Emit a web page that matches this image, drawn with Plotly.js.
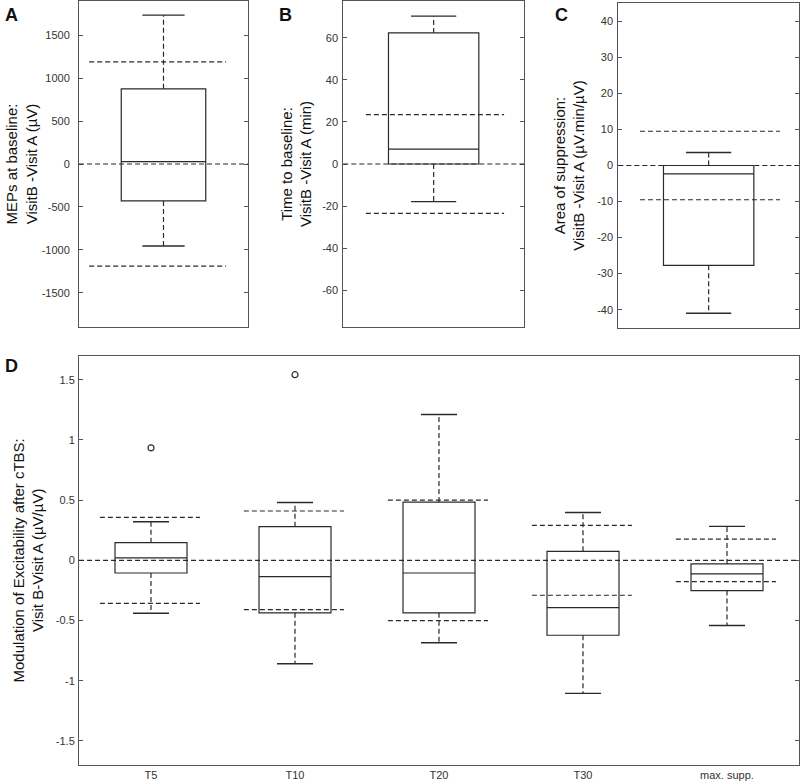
<!DOCTYPE html>
<html><head><meta charset="utf-8">
<script src="https://cdn.plot.ly/plotly-3.0.1.min.js"></script>
<style>html,body{margin:0;padding:0;background:#fff}#chart{width:800px;height:781px}</style>
</head><body><div id="chart"></div>
<script>
// ---- Panel A: MEPs at baseline ----
const aPos = [0];
const aQ1 = [-430];
const aMedian = [27];
const aQ3 = [876];
const aLower = [-955];
const aUpper = [1735];
const aLimit = [1190];
const aTicks = [-1500, -1000, -500, 0, 500, 1000, 1500];

// ---- Panel B: Time to baseline ----
const bPos = [0];
const bQ1 = [0];
const bMedian = [7.1];
const bQ3 = [62.3];
const bLower = [-17.9];
const bUpper = [70.3];
const bLimit = [23.5];
const bTicks = [-60, -40, -20, 0, 20, 40, 60];

// ---- Panel C: Area of suppression ----
const cPos = [0];
const cQ1 = [-27.7];
const cMedian = [-2.3];
const cQ3 = [0];
const cLower = [-41];
const cUpper = [3.6];
const cLimit = [9.5];
const cTicks = [-40, -30, -20, -10, 0, 10, 20, 30, 40];

// ---- Panel D: Modulation of excitability ----
const dCategories = ['T5', 'T10', 'T20', 'T30', 'max. supp.'];
const dQ1 = [-0.105, -0.436, -0.436, -0.622, -0.251];
const dMedian = [0.02, -0.135, -0.105, -0.392, -0.113];
const dQ3 = [0.147, 0.28, 0.484, 0.075, -0.03];
const dLower = [-0.44, -0.859, -0.685, -1.105, -0.541];
const dUpper = [0.321, 0.481, 1.211, 0.398, 0.282];
const dLimit = [0.357, 0.41, 0.5, 0.29, 0.177];
const dOutlierCat = [0, 1];
const dOutlierVal = [0.934, 1.542];
const dTicks = [-1.5, -1, -0.5, 0, 0.5, 1, 1.5];

const LC = '#2a2a2a';
const AX = '#555';
const FONT = 'Liberation Sans, Arial, sans-serif';
const traces = [];

function panel(xa, ya, pos, q1, med, q3, lo, hi, lim, boxW, capHalf, limL, limR) {
  traces.push({
    type: 'box', x: pos, q1: q1, median: med, q3: q3,
    lowerfence: q1, upperfence: q3, width: boxW, whiskerwidth: 0,
    line: {color: LC, width: 1.2}, fillcolor: 'rgba(0,0,0,0)',
    boxpoints: false, xaxis: xa, yaxis: ya, showlegend: false, hoverinfo: 'skip'
  });
  const wx = [], wy = [], cx = [], cy = [], lx = [], ly = [];
  pos.forEach((p, i) => {
    wx.push(p, p, null, p, p, null);
    wy.push(q3[i], hi[i], null, q1[i], lo[i], null);
    cx.push(p - capHalf, p + capHalf, null, p - capHalf, p + capHalf, null);
    cy.push(hi[i], hi[i], null, lo[i], lo[i], null);
    lx.push(p - limL, p + limR, null, p - limL, p + limR, null);
    ly.push(lim[i], lim[i], null, -lim[i], -lim[i], null);
  });
  traces.push({type: 'scatter', mode: 'lines', x: wx, y: wy, xaxis: xa, yaxis: ya,
    line: {color: LC, width: 1.2, dash: '5px,3px'}, showlegend: false, hoverinfo: 'skip'});
  traces.push({type: 'scatter', mode: 'lines', x: cx, y: cy, xaxis: xa, yaxis: ya,
    line: {color: LC, width: 1.4}, showlegend: false, hoverinfo: 'skip'});
  traces.push({type: 'scatter', mode: 'lines', x: lx, y: ly, xaxis: xa, yaxis: ya,
    line: {color: LC, width: 1.2, dash: '5px,3px'}, showlegend: false, hoverinfo: 'skip'});
}

panel('x', 'y', aPos, aQ1, aMedian, aQ3, aLower, aUpper, aLimit, 1.0, 0.25, 0.88, 0.74);
panel('x2', 'y2', bPos, bQ1, bMedian, bQ3, bLower, bUpper, bLimit, 1.0, 0.25, 0.75, 0.78);
panel('x3', 'y3', cPos, cQ1, cMedian, cQ3, cLower, cUpper, cLimit, 1.0, 0.25, 0.76, 0.79);
panel('x4', 'y4', dCategories.map((c, i) => i), dQ1, dMedian, dQ3, dLower, dUpper, dLimit, 0.5, 0.125, 0.355, 0.34);

traces.push({type: 'scatter', mode: 'markers', x: dOutlierCat, y: dOutlierVal, xaxis: 'x4', yaxis: 'y4',
  marker: {symbol: 'circle-open', size: 6, color: LC, line: {width: 1.2, color: LC}},
  showlegend: false, hoverinfo: 'skip'});

function xAxis(domain, range, anchor) {
  return {domain: domain, range: range, anchor: anchor, showline: true, mirror: true,
    linecolor: AX, linewidth: 1, ticks: '', showticklabels: false, zeroline: false,
    showgrid: false, fixedrange: true};
}
function yAxis(domain, range, anchor, ticks, title, standoff, labStand) {
  return {domain: domain, range: range, anchor: anchor, showline: true, mirror: 'ticks',
    linecolor: AX, linewidth: 1, ticks: 'inside', ticklen: 4, tickcolor: AX, tickwidth: 1,
    tickvals: ticks, ticktext: ticks.map(v => String(v)), ticklabelstandoff: labStand,
    tickfont: {family: FONT, size: 11, color: '#333'}, zeroline: false, showgrid: false,
    fixedrange: true,
    title: {text: title, standoff: standoff, font: {family: FONT, size: 15, color: '#111'}}};
}

const ayDom = [1 - 327 / 781, 1 - 1 / 781];
const cyDom = [1 - 327.7 / 781, 1 - 3.3 / 781];
const dyDom = [1 - 765 / 781, 1 - 355.7 / 781];

const layout = {
  width: 800, height: 781, margin: {l: 0, r: 0, t: 0, b: 0},
  paper_bgcolor: '#fff', plot_bgcolor: '#fff', showlegend: false,
  font: {family: FONT},
  xaxis: xAxis([79 / 800, 248 / 800], [-1, 1], 'y'),
  yaxis: yAxis(ayDom, [-1900, 1900], 'x', aTicks, 'MEPs at baseline:<br>VisitB -Visit A (µV)', 0, 6),
  xaxis2: xAxis([343.3 / 800, 524 / 800], [-1, 1], 'y2'),
  yaxis2: yAxis(ayDom, [-77.5, 77.5], 'x2', bTicks, 'Time to baseline:<br>VisitB -Visit A (min)', 6, 2),
  xaxis3: xAxis([618.3 / 800, 799 / 800], [-1, 1], 'y3'),
  yaxis3: yAxis(cyDom, [-45, 45], 'x3', cTicks, 'Area of suppression:<br>VisitB -Visit A (µV.min/µV)', 8, 2),
  xaxis4: Object.assign(xAxis([79 / 800, 799 / 800], [-0.5, 4.5], 'y4'), {
    showticklabels: true, tickvals: dCategories.map((c, i) => i), ticktext: dCategories,
    tickfont: {family: FONT, size: 11, color: '#333'}}),
  yaxis4: yAxis(dyDom, [-1.7, 1.7], 'x4', dTicks,
    'Modulation of Excitability after cTBS:<br>Visit B-Visit A (µV/µV)', 8, 1),
  shapes: ['', '2', '3', '4'].map(s => ({type: 'line', xref: 'x' + s + ' domain', x0: 0, x1: 1,
    yref: 'y' + s, y0: 0, y1: 0, line: {color: LC, width: 1.2, dash: '5px,3px'}})),
  annotations: [
    ['A', 3, 3], ['B', 277, 3], ['C', 553, 3], ['D', 3, 354]
  ].map(a => ({text: '<b>' + a[0] + '</b>', xref: 'paper', yref: 'paper',
    x: a[1] / 800, y: 1 - a[2] / 781, xanchor: 'left', yanchor: 'top', showarrow: false,
    font: {family: FONT, size: 18, color: '#111'}}))
};

Plotly.newPlot('chart', traces, layout, {displayModeBar: false, staticPlot: true});
</script>
</body></html>
